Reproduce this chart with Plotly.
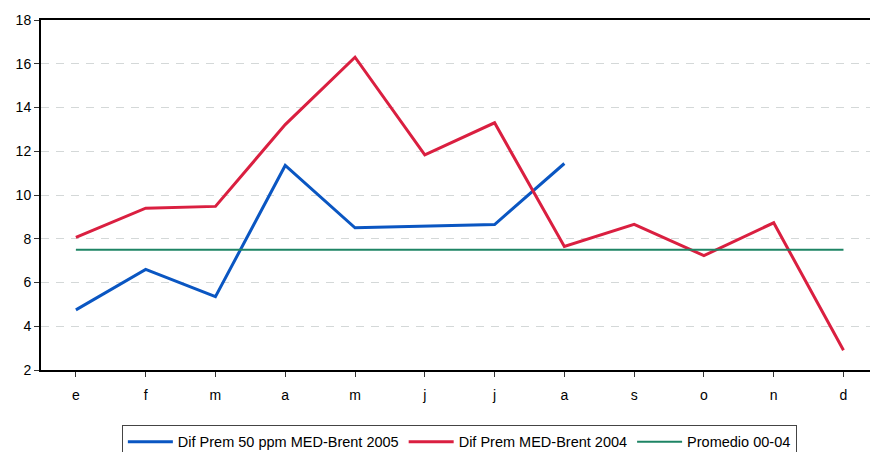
import plotly.graph_objects as go

months = ["e", "f", "m", "a", "m", "j", "j", "a", "s", "o", "n", "d"]
x_idx = list(range(len(months)))
dif_2005 = [4.75, 6.6, 5.35, 11.35, 8.5, 8.58, 8.65, 11.44]
dif_2004 = [8.06, 9.4, 9.48, 13.22, 16.3, 11.83, 13.3, 7.65, 8.66, 7.23, 8.73, 2.9]
promedio = [7.5] * 12

fig = go.Figure()
fig.add_trace(go.Scatter(x=x_idx[:len(dif_2005)], y=dif_2005, mode="lines",
                         name="Dif Prem 50 ppm MED-Brent 2005",
                         line=dict(color="#0A56C2", width=3)))
fig.add_trace(go.Scatter(x=x_idx, y=dif_2004, mode="lines",
                         name="Dif Prem MED-Brent 2004",
                         line=dict(color="#DA1F40", width=3)))
fig.add_trace(go.Scatter(x=x_idx, y=promedio, mode="lines",
                         name="Promedio 00-04",
                         line=dict(color="#1E8464", width=2)))

fig.update_layout(
    width=870, height=452,
    margin=dict(l=41, r=0, t=20, b=82, autoexpand=False),
    paper_bgcolor="white", plot_bgcolor="white",
    font=dict(family="Liberation Sans, Arial, sans-serif", color="black", size=14),
    showlegend=True,
    legend=dict(orientation="h", xref="container", x=0.528, xanchor="center",
                yref="container", y=0.06, yanchor="top",
                bordercolor="#444444", borderwidth=1,
                font=dict(size=14.5, family="Liberation Sans, Arial"),
                itemwidth=45, tracegroupgap=0),
)
fig.update_xaxes(
    range=[-0.5, 11.38], tickmode="array", tickvals=x_idx, ticktext=months,
    tickson="boundaries", ticks="outside", ticklen=5, tickcolor="#333333",
    ticklabelstandoff=6, automargin=False,
    showline=True, linecolor="black", linewidth=2, mirror=True,
    showgrid=False, zeroline=False, fixedrange=True,
)
fig.update_yaxes(
    range=[2, 18], tickmode="array", tickvals=[2, 4, 6, 8, 10, 12, 14, 16, 18],
    ticks="outside", ticklen=5, tickcolor="#333333", automargin=False,
    showline=True, linecolor="black", linewidth=2,
    showgrid=True, gridcolor="#D4D8D8", griddash="8px,7px", gridwidth=1,
    zeroline=False,
)

fig.write_html("out.html", config={"displayModeBar": False},
               post_script="document.body.style.margin='0';document.body.style.overflow='hidden';")
